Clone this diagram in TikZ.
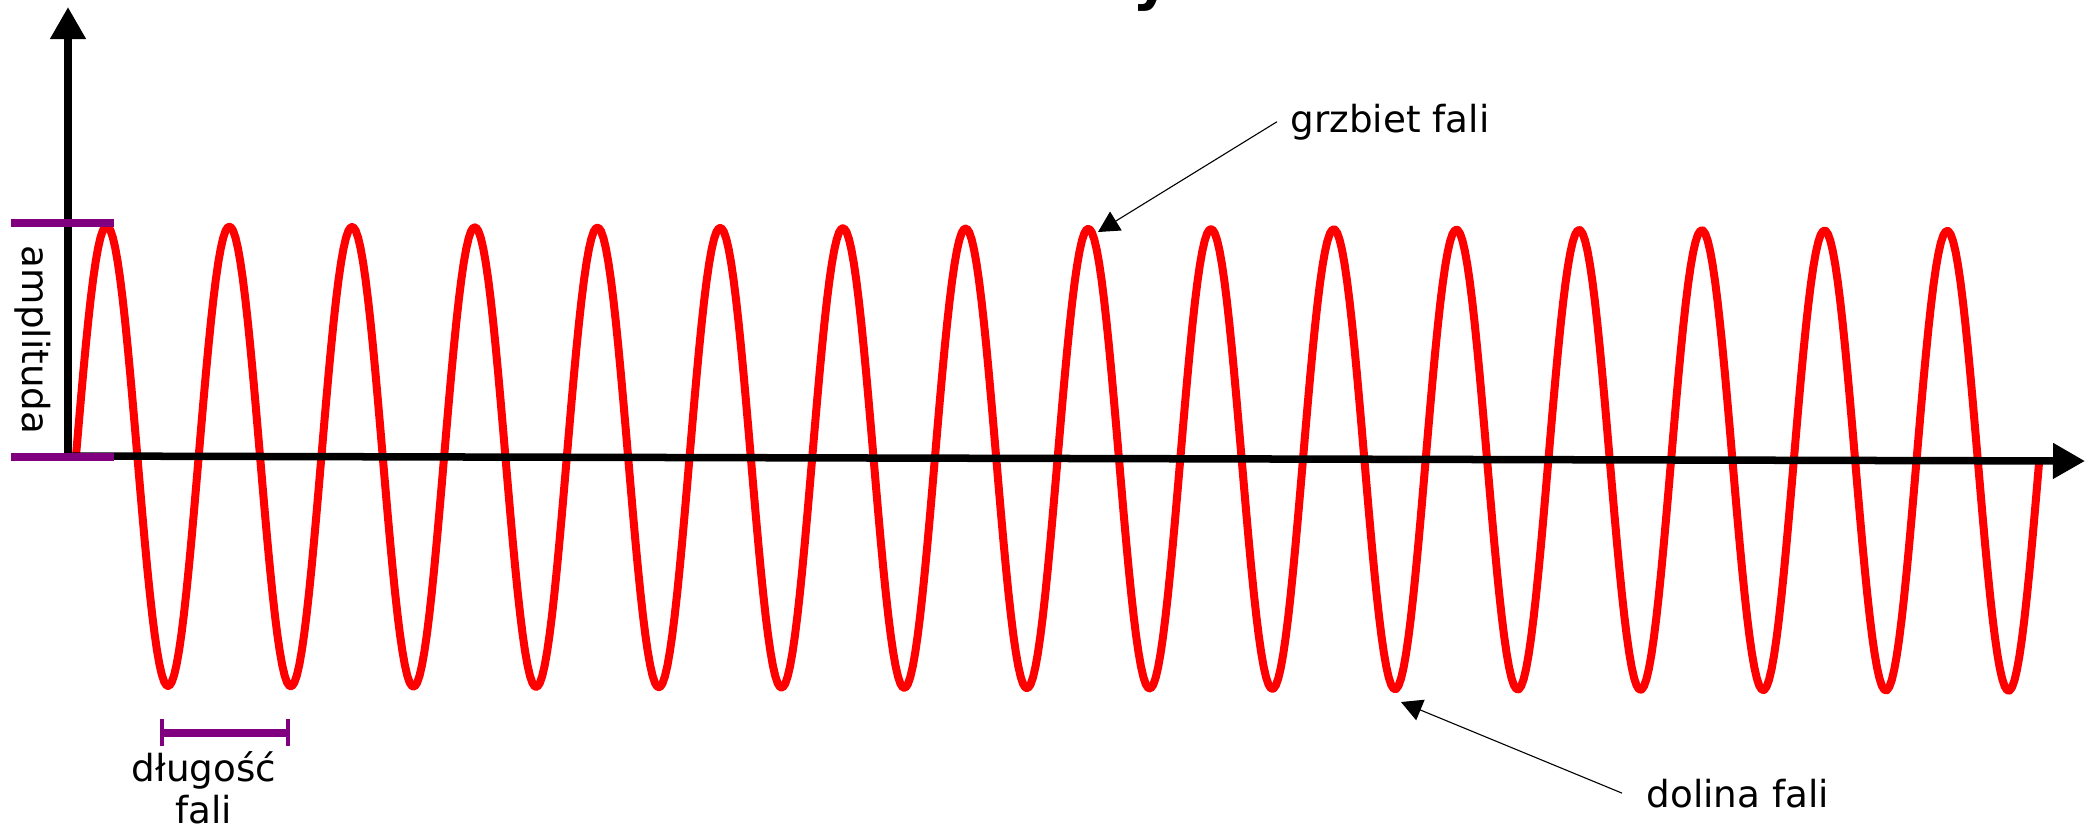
\documentclass[tikz,border=0pt]{standalone}
\usepackage{fontspec}
\setmainfont{DejaVu Sans}
\usetikzlibrary{arrows.meta}
\definecolor{wavered}{HTML}{FF0000}
\definecolor{barpurple}{HTML}{800080}

\begin{document}
\begin{tikzpicture}[x=0.01cm, y=-0.01cm,
  axis/.style={line width=0.075cm, -{Triangle[length=0.32cm, width=0.34cm]}},
  wave/.style={line width=0.08cm, wavered, line join=round},
  bar/.style={line width=0.075cm, barpurple},
  pointer/.style={line width=0.011cm, -{Triangle[length=0.21cm, width=0.22cm]}},
  label/.style={font=\fontsize{10.6}{11.7}\selectfont, inner sep=0pt}]
  \useasboundingbox (0,0) rectangle (2096,829);

  % Cut-off title glyph
  \begin{scope}
    \clip (0,0) rectangle (2096,829);
    \node[font=\bfseries\fontsize{17}{20}\selectfont, inner sep=0pt, anchor=base] (title) at (1152,-2) {y};
  \end{scope}

  % Sine wave
  \draw[wave] plot[domain=76:2039, samples=801] (\x, {456 + (\x-68)*0.0025 - 230*sin((\x-76)/122.7*360)});

  % Axes
  \coordinate (O) at (68,456);
  \coordinate (Y) at (68,7);
  \coordinate (X) at (2085,461);
  \draw[axis] (O) -- (Y);
  \draw[axis] (O) -- (X);

  % Amplitude
  \draw[bar] (11,223) -- (114,223);
  \draw[bar] (11,457) -- (114,457);
  \node[label, rotate=-90, anchor=base] (amp) at (22,340) {amplituda};

  % Wavelength
  \draw[bar] (162,733) -- (288,733);
  \draw[barpurple, line width=0.04cm] (162,719) -- (162,746);
  \draw[barpurple, line width=0.04cm] (288,719) -- (288,746);
  \node[label, align=center, anchor=base] (len) at (204,823) {długość\\fali};

  % Crest and trough
  \node[label, anchor=base west, inner xsep=0.13cm] (crestlbl) at (1277,132) {grzbiet fali};
  \coordinate (crest) at (1098,232);
  \draw[pointer] (crestlbl.west) -- (crest);

  \node[label, anchor=base west, inner xsep=0.24cm] (troughlbl) at (1622,807) {dolina fali};
  \coordinate (trough) at (1401,702);
  \draw[pointer] (troughlbl.west) -- (trough);
\end{tikzpicture}
\end{document}
